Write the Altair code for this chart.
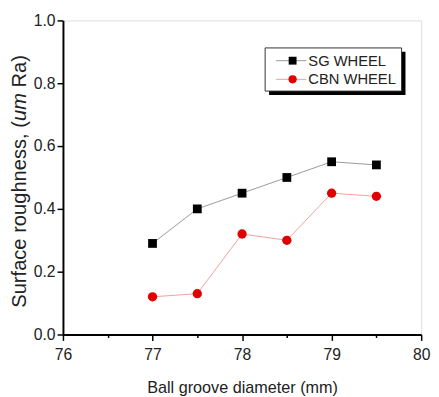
import altair as alt
import pandas as pd

diam = [77, 77.5, 78, 78.5, 79, 79.5]
sg = [0.29, 0.40, 0.45, 0.50, 0.55, 0.54]
cbn = [0.12, 0.13, 0.32, 0.30, 0.45, 0.44]
x_ticks = [76, 76.5, 77, 77.5, 78, 78.5, 79, 79.5, 80]
y_ticks = [0.0, 0.1, 0.2, 0.3, 0.4, 0.5, 0.6, 0.7, 0.8, 0.9, 1.0]
y_title_parts = ["Surface roughness, (", "um", "Ra)"]

df = pd.DataFrame({"d": diam * 2, "r": sg + cbn,
                   "s": ["SG WHEEL"] * 6 + ["CBN WHEEL"] * 6})

FONT = "Liberation Sans"
W, H = 365, 320
TS = 20.5  # y title font size

xs = alt.Scale(domain=[76, 80], nice=False)
ys = alt.Scale(domain=[0, 1.0], nice=False)

xaxis = alt.Axis(values=x_ticks, labelExpr="datum.value % 1 === 0 ? format(datum.value, 'd') : ''",
                 tickSize={"condition": {"test": "datum.value % 1 === 0", "value": 6}, "value": 3},
                 title="Ball groove diameter (mm)", grid=False, domainColor="black", domainWidth=2,
                 tickColor="black", tickWidth=1.5, labelFontSize=16, titleFontSize=16.5,
                 labelFont=FONT, titleFont=FONT, titleFontWeight="normal", labelColor="#222",
                 titleColor="#222", labelPadding=6, titlePadding=18, labelFlush=False)
yaxis = alt.Axis(values=y_ticks, labelExpr="(round(datum.value*10) % 2 === 0) ? format(datum.value, '.1f') : ''",
                 tickSize={"condition": {"test": "round(datum.value*10) % 2 === 0", "value": 6}, "value": 3},
                 title=None, grid=False, domainColor="black", domainWidth=2,
                 tickColor="black", tickWidth=1.5, labelFontSize=16,
                 labelFont=FONT, labelColor="#222", labelPadding=2, labelFlush=False)

base = alt.Chart(df)

sg_line = base.transform_filter("datum.s === 'SG WHEEL'").mark_line(color="#999999", strokeWidth=1).encode(
    x=alt.X("d:Q", scale=xs, axis=xaxis), y=alt.Y("r:Q", scale=ys, axis=yaxis))
cbn_line = base.transform_filter("datum.s === 'CBN WHEEL'").mark_line(color="#f0a0a0", strokeWidth=1).encode(
    x=alt.X("d:Q", scale=xs), y=alt.Y("r:Q", scale=ys))
sg_pts = base.transform_filter("datum.s === 'SG WHEEL'").mark_point(
    shape="square", filled=True, color="black", size=80, opacity=1).encode(
    x=alt.X("d:Q", scale=xs), y=alt.Y("r:Q", scale=ys))
cbn_pts = base.transform_filter("datum.s === 'CBN WHEEL'").mark_point(
    shape="circle", filled=True, color="#e00000", size=90, opacity=1).encode(
    x=alt.X("d:Q", scale=xs), y=alt.Y("r:Q", scale=ys))

# legend box
one = pd.DataFrame({"k": [0]})
lb = alt.Chart(one)
shadow = lb.mark_rect(color="black").encode(x=alt.value(210), x2=alt.value(349), y=alt.value(32), y2=alt.value(76))
box = lb.mark_rect(fill="white", stroke="#333", strokeWidth=1).encode(
    x=alt.value(206), x2=alt.value(345), y=alt.value(28), y2=alt.value(72))
leg_sg_l = lb.mark_rule(color="#999999", strokeWidth=1).encode(x=alt.value(217), x2=alt.value(248), y=alt.value(41))
leg_cbn_l = lb.mark_rule(color="#f0a0a0", strokeWidth=1).encode(x=alt.value(217), x2=alt.value(248), y=alt.value(60))
leg_sg_p = lb.mark_point(shape="square", filled=True, color="black", size=64, opacity=1).encode(
    x=alt.value(234), y=alt.value(41))
leg_cbn_p = lb.mark_point(shape="circle", filled=True, color="#e00000", size=70, opacity=1).encode(
    x=alt.value(234), y=alt.value(60))
leg_sg_t = lb.mark_text(text="SG WHEEL", align="left", baseline="middle", font=FONT, fontSize=15, color="#222").encode(
    x=alt.value(250), y=alt.value(41))
leg_cbn_t = lb.mark_text(text="CBN WHEEL", align="left", baseline="middle", font=FONT, fontSize=15, color="#222").encode(
    x=alt.value(250), y=alt.value(60))

# y-axis title with italic "um"
w1 = 9.282 * TS
w2 = 1.389 * TS
wsp = 0.278 * TS
w3 = 1.611 * TS
y_center = 164
y0 = y_center + (w1 + w2 + wsp + w3) / 2
tx = -44
t1 = lb.mark_text(text=y_title_parts[0], angle=270, align="left", baseline="middle", font=FONT,
                  fontSize=TS, color="#222").encode(x=alt.value(tx), y=alt.value(y0))
t2 = lb.mark_text(text=y_title_parts[1], angle=270, align="left", baseline="middle", font=FONT,
                  fontSize=TS, fontStyle="italic", color="#222").encode(x=alt.value(tx), y=alt.value(y0 - w1))
t3 = lb.mark_text(text=y_title_parts[2], angle=270, align="left", baseline="middle", font=FONT,
                  fontSize=TS, color="#222").encode(x=alt.value(tx), y=alt.value(y0 - w1 - w2 - wsp))

chart = alt.layer(sg_line, cbn_line, sg_pts, cbn_pts, shadow, box, leg_sg_l, leg_cbn_l,
                  leg_sg_p, leg_cbn_p, leg_sg_t, leg_cbn_t, t1, t2, t3).properties(
    width=W, height=H, autosize=alt.AutoSizeParams(type="none"),
    padding={"left": 56, "top": 9, "right": 10, "bottom": 60}
).configure_view(stroke="black", strokeWidth=2).configure(background="white")

chart.save("out.html", embed_options={"renderer": "svg", "actions": False})
